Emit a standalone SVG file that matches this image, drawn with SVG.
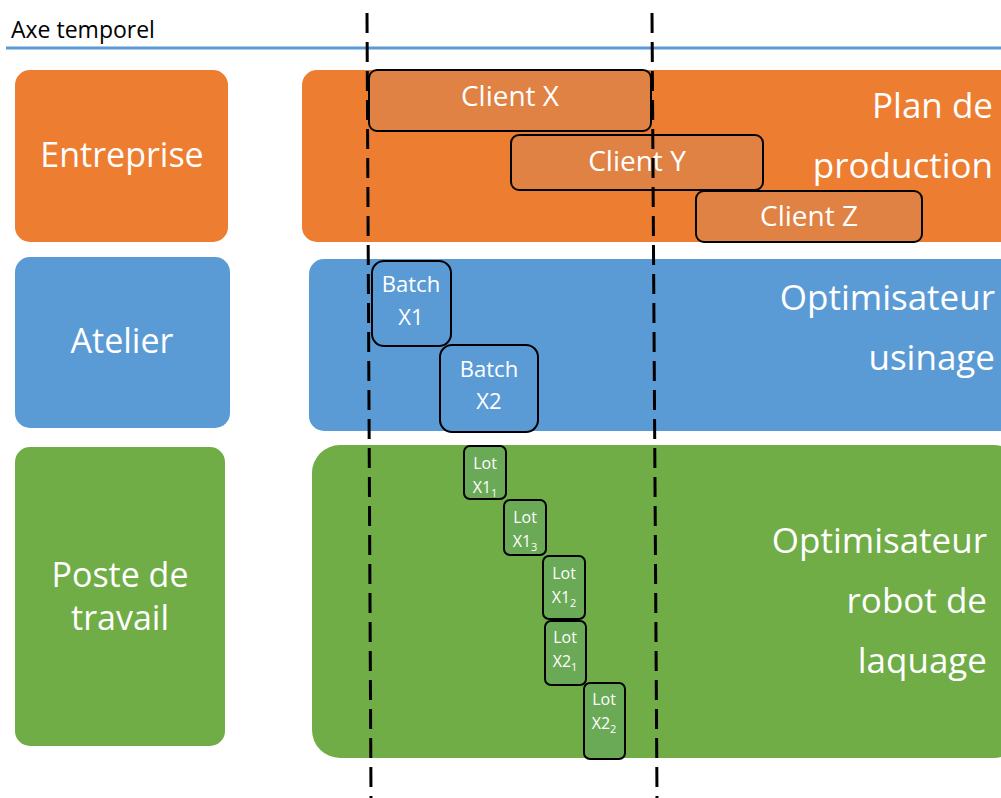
<svg xmlns="http://www.w3.org/2000/svg" width="1001" height="798" viewBox="0 0 1001 798">
<style>
text{font-family:"Open Sans","Noto Sans",sans-serif;fill:#fff}
.lbl{font-size:34px;text-anchor:middle}
.big{font-size:35px;text-anchor:end}
.cli{font-size:28px;text-anchor:middle}
.bat{font-size:22px;text-anchor:middle}
.lot{font-size:16px;text-anchor:middle}
.box{stroke:#000;stroke-width:2}
.dash{stroke:#000;stroke-width:3;stroke-dasharray:20 9;fill:none}
</style>
<rect width="1001" height="798" fill="#fff"/>
<g id="axis">
<line x1="6" y1="48" x2="1001" y2="48" stroke="#5B9BD5" stroke-width="3"/>
<text x="11" y="38" style="font-size:23px;fill:#000">Axe temporel</text>
</g>
<g id="entreprise">
<rect x="15" y="70" width="213" height="172" rx="15" fill="#ED7D31"/>
<text class="lbl" x="122" y="167">Entreprise</text>
</g>
<g id="plan-production">
<rect x="302" y="70" width="720" height="172" rx="15" fill="#ED7D31"/>
<text class="big" x="993" y="118">Plan de</text>
<text class="big" x="993" y="178">production</text>
</g>
<g id="atelier">
<rect x="15" y="257" width="215" height="171" rx="15" fill="#5B9BD5"/>
<text class="lbl" x="122" y="353">Atelier</text>
</g>
<g id="optimisateur-usinage">
<rect x="309" y="259" width="713" height="172" rx="15" fill="#5B9BD5"/>
<text class="big" x="995" y="310">Optimisateur</text>
<text class="big" x="995" y="370">usinage</text>
</g>
<g id="poste">
<rect x="15" y="447" width="210" height="299" rx="15" fill="#70AD47"/>
<text class="lbl" x="120" y="587">Poste de</text>
<text class="lbl" x="120" y="630">travail</text>
</g>
<g id="optimisateur-robot">
<rect x="312" y="445" width="710" height="313" rx="28" fill="#70AD47"/>
<text class="big" x="987" y="553">Optimisateur</text>
<text class="big" x="987" y="613">robot de</text>
<text class="big" x="987" y="673">laquage</text>
</g>
<g id="client-x">
<rect class="box" x="369" y="70" width="282" height="61" rx="8" fill="#DF8244"/>
<text class="cli" x="510" y="106">Client X</text>
</g>
<g id="client-y">
<rect class="box" x="511" y="135" width="252" height="55" rx="8" fill="#DF8244"/>
<text class="cli" x="637" y="171">Client Y</text>
</g>
<g id="client-z">
<rect class="box" x="696" y="191" width="226" height="51" rx="8" fill="#DF8244"/>
<text class="cli" x="809" y="226">Client Z</text>
</g>
<g id="batch-x1">
<rect class="box" x="372" y="261" width="79" height="85" rx="12" fill="#5B9BD5"/>
<text class="bat" x="411" y="292">Batch</text>
<text class="bat" x="411" y="325">X1</text>
</g>
<g id="batch-x2">
<rect class="box" x="440" y="345" width="98" height="87" rx="12" fill="#5B9BD5"/>
<text class="bat" x="489" y="377">Batch</text>
<text class="bat" x="489" y="409">X2</text>
</g>
<g id="lot-x1-1">
<rect class="box" x="464" y="446" width="42" height="53" rx="6" fill="#6AA956"/>
<text class="lot" x="485" y="469">Lot</text>
<text class="lot" x="485" y="493">X1<tspan dy="4" font-size="11">1</tspan></text>
</g>
<g id="lot-x1-3">
<rect class="box" x="504" y="500" width="42" height="55" rx="6" fill="#6AA956"/>
<text class="lot" x="525" y="523">Lot</text>
<text class="lot" x="525" y="547">X1<tspan dy="4" font-size="11">3</tspan></text>
</g>
<g id="lot-x1-2">
<rect class="box" x="543" y="556" width="42" height="63" rx="6" fill="#6AA956"/>
<text class="lot" x="564" y="579">Lot</text>
<text class="lot" x="564" y="603">X1<tspan dy="4" font-size="11">2</tspan></text>
</g>
<g id="lot-x2-1">
<rect class="box" x="545" y="621" width="41" height="64" rx="6" fill="#6AA956"/>
<text class="lot" x="565" y="643">Lot</text>
<text class="lot" x="565" y="667">X2<tspan dy="4" font-size="11">1</tspan></text>
</g>
<g id="lot-x2-2">
<rect class="box" x="584" y="683" width="41" height="76" rx="6" fill="#6AA956"/>
<text class="lot" x="604" y="705">Lot</text>
<text class="lot" x="604" y="729">X2<tspan dy="4" font-size="11">2</tspan></text>
</g>
<g id="connectors">
<line class="dash" x1="367" y1="13" x2="371" y2="798"/>
<line class="dash" x1="652" y1="13" x2="657" y2="798"/>
</g>
</svg>
